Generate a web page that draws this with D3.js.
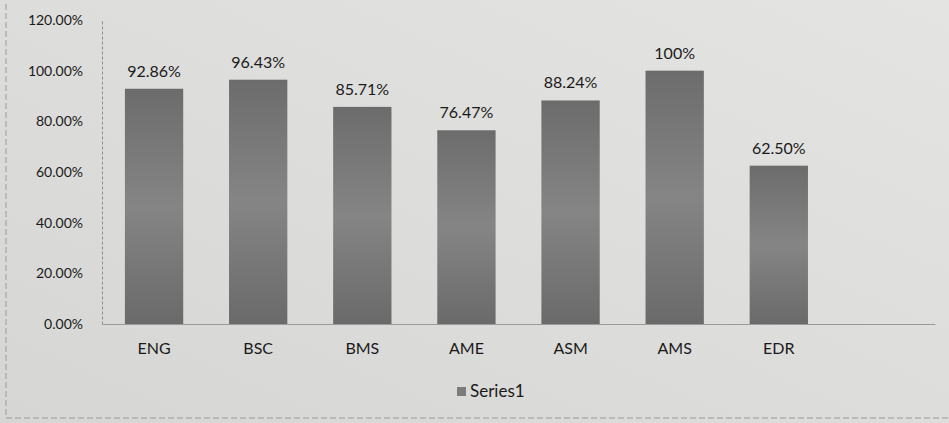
<!DOCTYPE html>
<html>
<head>
<meta charset="utf-8">
<script src="https://cdn.jsdelivr.net/npm/d3@7"></script>
<style>
  body { margin: 0; background: #d9d9d7; }
  text { font-family: Lato, "Open Sans", sans-serif; fill: #1a1a1a; }
</style>
</head>
<body>
<div id="chart"></div>
<script>
var svgWidth = 949;
var svgHeight = 423;

// data
var categories = ["ENG", "BSC", "BMS", "AME", "ASM", "AMS", "EDR"];
var values = [92.86, 96.43, 85.71, 76.47, 88.24, 100, 62.50];
var valueLabels = ["92.86%", "96.43%", "85.71%", "76.47%", "88.24%", "100%", "62.50%"];
var yTicks = [0, 20, 40, 60, 80, 100, 120];
var seriesName = "Series1";

var margin = { top: 20, right: 14, bottom: 99, left: 102 };
var width = svgWidth - margin.left - margin.right;
var height = svgHeight - margin.top - margin.bottom;

var svg = d3.select("#chart")
  .append("svg")
  .attr("width", svgWidth)
  .attr("height", svgHeight);

var defs = svg.append("defs");

// photo background: lighter toward upper right
var bg = defs.append("linearGradient").attr("id", "bg")
  .attr("x1", "0").attr("y1", "1").attr("x2", "1").attr("y2", "0");
bg.append("stop").attr("offset", "0").attr("stop-color", "#d6d6d4");
bg.append("stop").attr("offset", "1").attr("stop-color", "#e4e4e2");

var barFill = defs.append("linearGradient").attr("id", "barFill")
  .attr("x1", "0").attr("y1", "0").attr("x2", "0").attr("y2", "1");
barFill.append("stop").attr("offset", "0").attr("stop-color", "#6c6c6c");
barFill.append("stop").attr("offset", "0.5").attr("stop-color", "#858585");
barFill.append("stop").attr("offset", "1").attr("stop-color", "#6a6a6a");

svg.append("rect")
  .attr("width", svgWidth)
  .attr("height", svgHeight)
  .attr("fill", "url(#bg)");

// faint outer frame of the chart
svg.append("path")
  .attr("d", "M6,4 V418 H949")
  .attr("fill", "none")
  .attr("stroke", "#9a9a9a")
  .attr("stroke-dasharray", "6,3")
  .attr("stroke-width", 1);

var chartGroup = svg.append("g")
  .attr("transform", `translate(${margin.left}, ${margin.top})`);

// 8 slots on the axis, the last one empty
var xBandScale = d3.scaleBand()
  .domain(categories.concat([""]))
  .range([0, width])
  .paddingInner(0.44)
  .paddingOuter(0.22);

var yLinearScale = d3.scaleLinear()
  .domain([0, 120])
  .range([height, 0]);

// y axis (labels only, faint line)
var leftAxis = d3.axisLeft(yLinearScale)
  .tickValues(yTicks)
  .tickSize(0)
  .tickPadding(19)
  .tickFormat(d => d3.format(".2f")(d) + "%");

var yAxis = chartGroup.append("g").call(leftAxis);
yAxis.select(".domain").attr("stroke", "#8c8c8c").attr("stroke-dasharray", "3,2");
yAxis.selectAll("text").style("font-size", "14px").attr("fill", "#1a1a1a");

// x axis
var bottomAxis = d3.axisBottom(xBandScale).tickSize(0).tickPadding(19);
var xAxis = chartGroup.append("g")
  .attr("transform", `translate(0, ${height})`)
  .call(bottomAxis);
xAxis.select(".domain").attr("stroke", "#9a9a9a");
xAxis.selectAll("text").style("font-size", "16px").attr("fill", "#1a1a1a");

// bars
chartGroup.selectAll("rect.bar")
  .data(values)
  .enter()
  .append("rect")
  .attr("class", "bar")
  .attr("x", (d, i) => xBandScale(categories[i]))
  .attr("y", d => yLinearScale(d))
  .attr("width", xBandScale.bandwidth())
  .attr("height", d => height - yLinearScale(d))
  .attr("fill", "url(#barFill)");

// value labels
chartGroup.selectAll("text.val")
  .data(values)
  .enter()
  .append("text")
  .attr("class", "val")
  .attr("x", (d, i) => xBandScale(categories[i]) + xBandScale.bandwidth() / 2)
  .attr("y", d => yLinearScale(d) - 12)
  .style("text-anchor", "middle")
  .style("font-size", "16px")
  .text((d, i) => valueLabels[i]);

// legend
var legend = svg.append("g")
  .attr("transform", "translate(457, 391)");
legend.append("rect")
  .attr("x", 0).attr("y", -4)
  .attr("width", 9).attr("height", 9)
  .attr("fill", "#7c7c7c");
legend.append("text")
  .attr("x", 13).attr("y", 6)
  .style("font-size", "17px")
  .text(seriesName);
</script>
</body>
</html>
